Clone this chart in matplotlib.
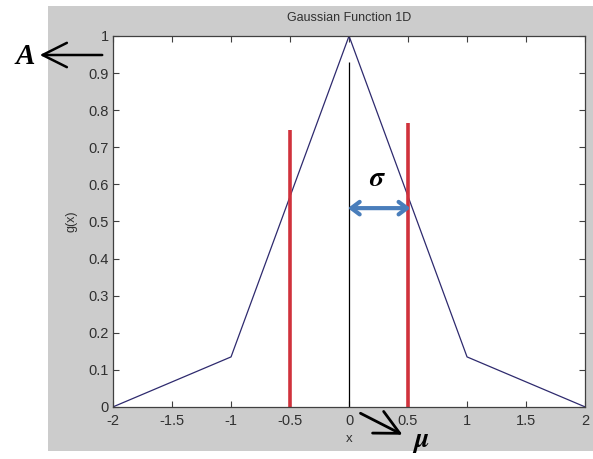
import matplotlib.pyplot as plt
from matplotlib.patches import Rectangle, FancyArrowPatch

# gaussian sampled at integer x (sigma = 0.5)
x_vals = [-2, -1, 0, 1, 2]
g_vals = [0.0003, 0.135, 1.0, 0.135, 0.0003]

# marker lines: x position, height
red_x = [-0.5, 0.5]
red_h = [0.747, 0.765]
mu_x = 0
mu_h = 0.93
sigma_y = 0.536

xticks = [-2, -1.5, -1, -0.5, 0, 0.5, 1, 1.5, 2]
xticklabels = ['-2', '-1.5', '-1', '-0.5', '0', '0.5', '1', '1.5', '2']
yticks = [0, 0.1, 0.2, 0.3, 0.4, 0.5, 0.6, 0.7, 0.8, 0.9, 1]
yticklabels = ['0', '0.1', '0.2', '0.3', '0.4', '0.5', '0.6', '0.7', '0.8', '0.9', '1']

plt.rcParams['font.family'] = ['Liberation Sans', 'DejaVu Sans']
plt.rcParams['mathtext.fontset'] = 'stix'

fig = plt.figure(figsize=(5.93, 4.59), dpi=100)
fig.patch.set_facecolor('white')
# matlab grey figure area
fig.patches.append(Rectangle((48 / 593, 8 / 459), 545 / 593, 445 / 459,
                             transform=fig.transFigure, facecolor='#cccccc',
                             edgecolor='none', zorder=-10))

ax = fig.add_axes([0.1906, 0.1133, 0.7960, 0.8083])
ax.set_facecolor('white')

ax.plot(x_vals, g_vals, color='#2e2a6e', lw=0.9)
ax.vlines(mu_x, 0, mu_h, color='black', lw=0.9)
ax.vlines(red_x, 0, red_h, color='#d0323c', lw=2.6)

ax.set_xlim(-2, 2)
ax.set_ylim(0, 1)
ax.set_xticks(xticks)
ax.set_xticklabels(xticklabels)
ax.set_yticks(yticks)
ax.set_yticklabels(yticklabels)
ax.tick_params(direction='in', length=4, width=0.8, color='#404040',
               labelsize=10.5, labelcolor='#303030', top=True, right=True, pad=3)
ax.tick_params(axis='x', pad=5)
for s in ax.spines.values():
    s.set_color('#404040')
    s.set_linewidth(0.9)

ax.set_title('Gaussian Function 1D', fontsize=9, color='#303030', pad=11)
ax.set_xlabel('x', fontsize=9.5, color='#303030', labelpad=4)
ax.set_ylabel('g(x)', fontsize=9, color='#303030', labelpad=8)

# sigma double arrow
ax.annotate('', xy=(0.52, sigma_y), xytext=(-0.01, sigma_y),
            arrowprops=dict(arrowstyle='<->,head_length=0.6,head_width=0.45',
                            color='#4a7ebb', lw=3.0, shrinkA=0, shrinkB=0))
ax.text(0.24, 0.615, r'$\boldsymbol{\sigma}$', fontsize=20, ha='center',
        va='center')

# A arrow (points at the peak value)
fig.text(25 / 593, 1 - 57 / 459, 'A', fontsize=21, fontweight='bold',
         fontstyle='italic', family='Liberation Serif', ha='center', va='center')
fig.add_artist(FancyArrowPatch(
    (105 / 593, 1 - 55 / 459), (37 / 593, 1 - 55 / 459),
    transform=fig.transFigure, arrowstyle='->,head_length=7,head_width=3.5',
    mutation_scale=2.5, color='black', lw=1.8))

# mu arrow
fig.add_artist(FancyArrowPatch(
    (358 / 593, 1 - 412 / 459), (405 / 593, 1 - 436 / 459),
    transform=fig.transFigure, arrowstyle='->,head_length=7,head_width=3.5',
    mutation_scale=2.5, color='black', lw=2.0))
fig.text(421 / 593, 1 - 442 / 459, r'$\boldsymbol{\mu}$', fontsize=20,
         ha='center', va='center')

plt.savefig('out.png', dpi=100)
